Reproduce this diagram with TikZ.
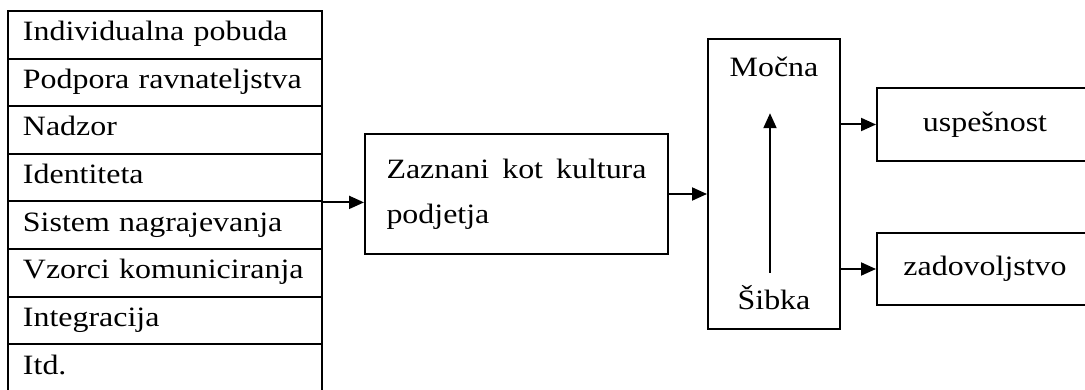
\documentclass[tikz,border=0pt]{standalone}
\usepackage{fontspec}
\setmainfont[FakeStretch=1.14]{Liberation Serif}
\usetikzlibrary{arrows.meta}
\tikzset{
  bx/.style={draw, line width=2pt, inner sep=0pt},
  rowbox/.style={bx, anchor=north west, minimum width=314pt, minimum height=47.6pt,
    text width=314pt, inner xsep=0pt, align=left, text height=20pt, text depth=8pt},
  txt/.style={inner sep=0pt, text height=20pt, text depth=8pt},
  arr/.style={line width=2pt, -{Triangle[length=15pt,width=13pt]}},
}
\begin{document}
\begin{tikzpicture}[x=1pt,y=-1pt, font=\fontsize{28}{45}\selectfont]
\useasboundingbox (0,0) rectangle (1085,390);
% left table
\node[rowbox] (r1) at (7,10.0) {\hspace*{15pt}Individualna pobuda};
\node[rowbox] (r2) at (7,57.6) {\hspace*{15pt}Podpora ravnateljstva};
\node[rowbox] (r3) at (7,105.2) {\hspace*{15pt}Nadzor};
\node[rowbox] (r4) at (7,152.8) {\hspace*{15pt}Identiteta};
\node[rowbox] (r5) at (7,200.4) {\hspace*{15pt}Sistem nagrajevanja};
\node[rowbox] (r6) at (7,248.0) {\hspace*{15pt}Vzorci komuniciranja};
\node[rowbox] (r7) at (7,295.6) {\hspace*{15pt}Integracija};
\node[rowbox] (r8) at (7,343.2) {\hspace*{15pt}Itd.};
% culture box
\node[bx, minimum width=303pt, minimum height=120pt, text width=260pt, align=justify]
  (zaz) at (516.5,194) {Zaznani kot kultura podjetja};
% strength box
\node[bx, minimum width=132pt, minimum height=290pt] (mid) at (774,184) {};
\node[txt, anchor=base] (moc) at (774,77) {Močna};
\node[txt, anchor=base] (sib) at (774,309) {Šibka};
% outcome boxes
\node[bx, minimum width=216pt, minimum height=73pt] (usp) at (985,124.5) {uspešnost};
\node[bx, minimum width=216pt, minimum height=72pt] (zad) at (985,269) {zadovoljstvo};
% connectors
\draw[arr] (r4.south east) -- (r4.south east -| zaz.west);
\draw[arr] (zaz.east) -- (zaz.east -| mid.west);
\draw[arr, shorten <=16pt, shorten >=28pt] ([xshift=-4pt]sib.north) -- ([xshift=-4pt]moc.south);
\draw[arr] (usp.west -| mid.east) -- (usp.west);
\draw[arr] (zad.west -| mid.east) -- (zad.west);
\end{tikzpicture}
\end{document}
